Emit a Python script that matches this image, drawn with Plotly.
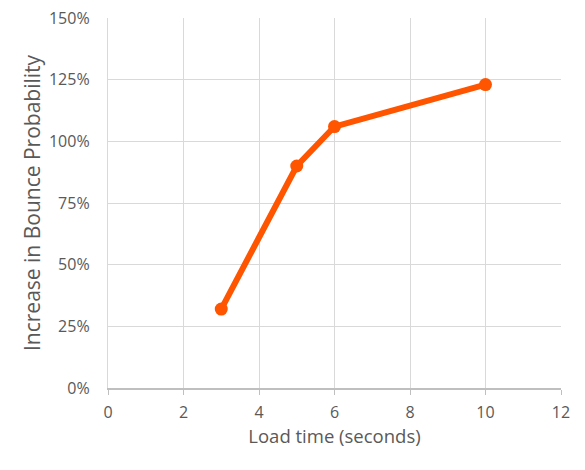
import plotly.graph_objects as go

load_time = [3, 5, 6, 10]
bounce_increase = [0.32, 0.90, 1.06, 1.23]

x_ticks = [0, 2, 4, 6, 8, 10, 12]
y_ticks = [0, 0.25, 0.5, 0.75, 1.0, 1.25, 1.5]
y_tick_labels = ["0%", "25%", "50%", "75%", "100%", "125%", "150%"]

FONT = "Open Sans"
GRAY = "#595959"
ORANGE = "#FF5500"

fig = go.Figure()
fig.add_trace(go.Scatter(
    x=load_time, y=bounce_increase, mode="lines+markers",
    line=dict(color=ORANGE, width=6),
    marker=dict(color=ORANGE, size=13),
    showlegend=False,
))

fig.update_layout(
    width=577, height=462,
    margin=dict(l=100, r=24, t=10, b=82, autoexpand=False),
    paper_bgcolor="white", plot_bgcolor="white",
    font=dict(family=FONT, color=GRAY, size=16),
    xaxis=dict(
        range=[0, 12], tickvals=x_ticks, showgrid=True, gridcolor="#D9D9D9", gridwidth=1.3,
        showline=True, linecolor="#BFBFBF", linewidth=1.5,
        ticks="outside", ticklen=5, tickcolor="#BFBFBF", tickwidth=1.3,
        zeroline=False, ticklabelstandoff=4, automargin=False,
        title=dict(text="Load time (seconds)", font=dict(size=18.5, color=GRAY), standoff=7),
        tickfont=dict(size=16, color=GRAY),
    ),
    yaxis=dict(
        range=[0, 1.5001], tickvals=y_ticks, ticktext=y_tick_labels,
        showgrid=True, gridcolor="#D9D9D9", gridwidth=1.3,
        showline=True, linecolor="#D9D9D9", linewidth=1.3, zeroline=False,
        ticks="", ticklabelstandoff=14, ticklabeloverflow="allow", automargin=False,
        title=dict(text="Increase in Bounce Probability", font=dict(size=21, color=GRAY), standoff=2),
        tickfont=dict(size=16, color=GRAY),
    ),
)

fig.write_html("out.html")
